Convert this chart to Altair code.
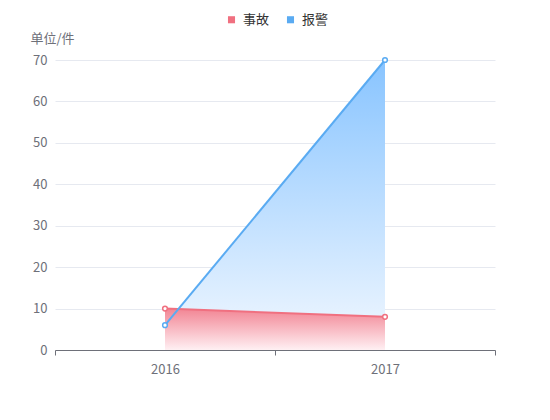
import altair as alt
import pandas as pd

years = ["2016", "2017"]
series_names = ["事故", "报警"]
accident = [10, 8]
alarm = [6, 70]
y_ticks = [0, 10, 20, 30, 40, 50, 60, 70]

RED = "#f07080"
BLUE = "#5aabf2"
FONT = "Noto Sans CJK SC"

df_acc = pd.DataFrame({"year": years, "value": accident, "series": series_names[0]})
df_alm = pd.DataFrame({"year": years, "value": alarm, "series": series_names[1]})
df_leg = pd.DataFrame({"year": years, "value": [None, None], "series": series_names})

x_enc = alt.X(
    "year:N",
    scale=alt.Scale(type="band", paddingInner=0, paddingOuter=0),
    axis=alt.Axis(
        title=None, labelAngle=0, tickBand="extent", domainColor="#6e7079",
        tickColor="#6e7079", tickSize=5, labelColor="#6e7079", labelFontSize=13,
        labelPadding=8, labelFont=FONT, grid=False,
    ),
)
y_enc = alt.Y(
    "value:Q",
    scale=alt.Scale(domain=[0, 70], nice=False, zero=True),
    axis=alt.Axis(
        title="单位/件", titleAngle=0, titleAlign="left", titleBaseline="middle",
        titleX=-25, titleY=-22, titleFontWeight="normal", titleFontSize=13,
        titleColor="#6e7079", titleFont=FONT,
        values=y_ticks, domain=False, ticks=False, labelColor="#6e7079",
        labelFontSize=13, labelPadding=8, labelFont=FONT,
        gridColor="#e6e9f0", gridWidth=1,
    ),
)

blue_grad = alt.Gradient(
    gradient="linear",
    stops=[alt.GradientStop(color="#88c4ff", offset=0),
           alt.GradientStop(color="#f2f8ff", offset=1)],
    x1=0, x2=0, y1=0, y2=1,
)
red_grad = alt.Gradient(
    gradient="linear",
    stops=[alt.GradientStop(color="#f28594", offset=0),
           alt.GradientStop(color="#fff0f3", offset=1)],
    x1=0, x2=0, y1=0, y2=1,
)

area_alm = alt.Chart(df_alm).mark_area(color=blue_grad, opacity=1).encode(x=x_enc, y=y_enc)
area_acc = alt.Chart(df_acc).mark_area(color=red_grad, opacity=1).encode(x=x_enc, y=y_enc)
line_acc = alt.Chart(df_acc).mark_line(color=RED, strokeWidth=2).encode(x=x_enc, y=y_enc)
line_alm = alt.Chart(df_alm).mark_line(color=BLUE, strokeWidth=2).encode(x=x_enc, y=y_enc)
pt_acc = alt.Chart(df_acc).mark_point(
    shape="circle", filled=False, fill="white", color=RED, strokeWidth=1.5, size=22, opacity=1
).encode(x=x_enc, y=y_enc)
pt_alm = alt.Chart(df_alm).mark_point(
    shape="circle", filled=False, fill="white", color=BLUE, strokeWidth=1.5, size=22, opacity=1
).encode(x=x_enc, y=y_enc)

legend_layer = alt.Chart(df_leg).mark_square(filled=True, opacity=1).encode(
    x=x_enc,
    y=y_enc,
    color=alt.Color(
        "series:N",
        scale=alt.Scale(domain=series_names, range=[RED, BLUE]),
        legend=alt.Legend(
            title=None, orient="none", direction="horizontal", legendX=170, legendY=-47,
            symbolType="square", symbolSize=50, labelFontSize=13, labelColor="#333333",
            labelFont=FONT, columnPadding=14, symbolOffset=0, labelOffset=5,
        ),
    ),
).transform_filter("false")

chart = alt.layer(
    area_alm, area_acc, line_acc, line_alm, pt_acc, pt_alm, legend_layer
).properties(
    width=440, height=290,
    autosize=alt.AutoSizeParams(type="none"),
    padding={"left": 47, "top": 52, "right": 47, "bottom": 62},
).configure(font=FONT).configure_view(stroke=None)

chart.save("out.html", embed_options={"renderer": "svg", "actions": False})
